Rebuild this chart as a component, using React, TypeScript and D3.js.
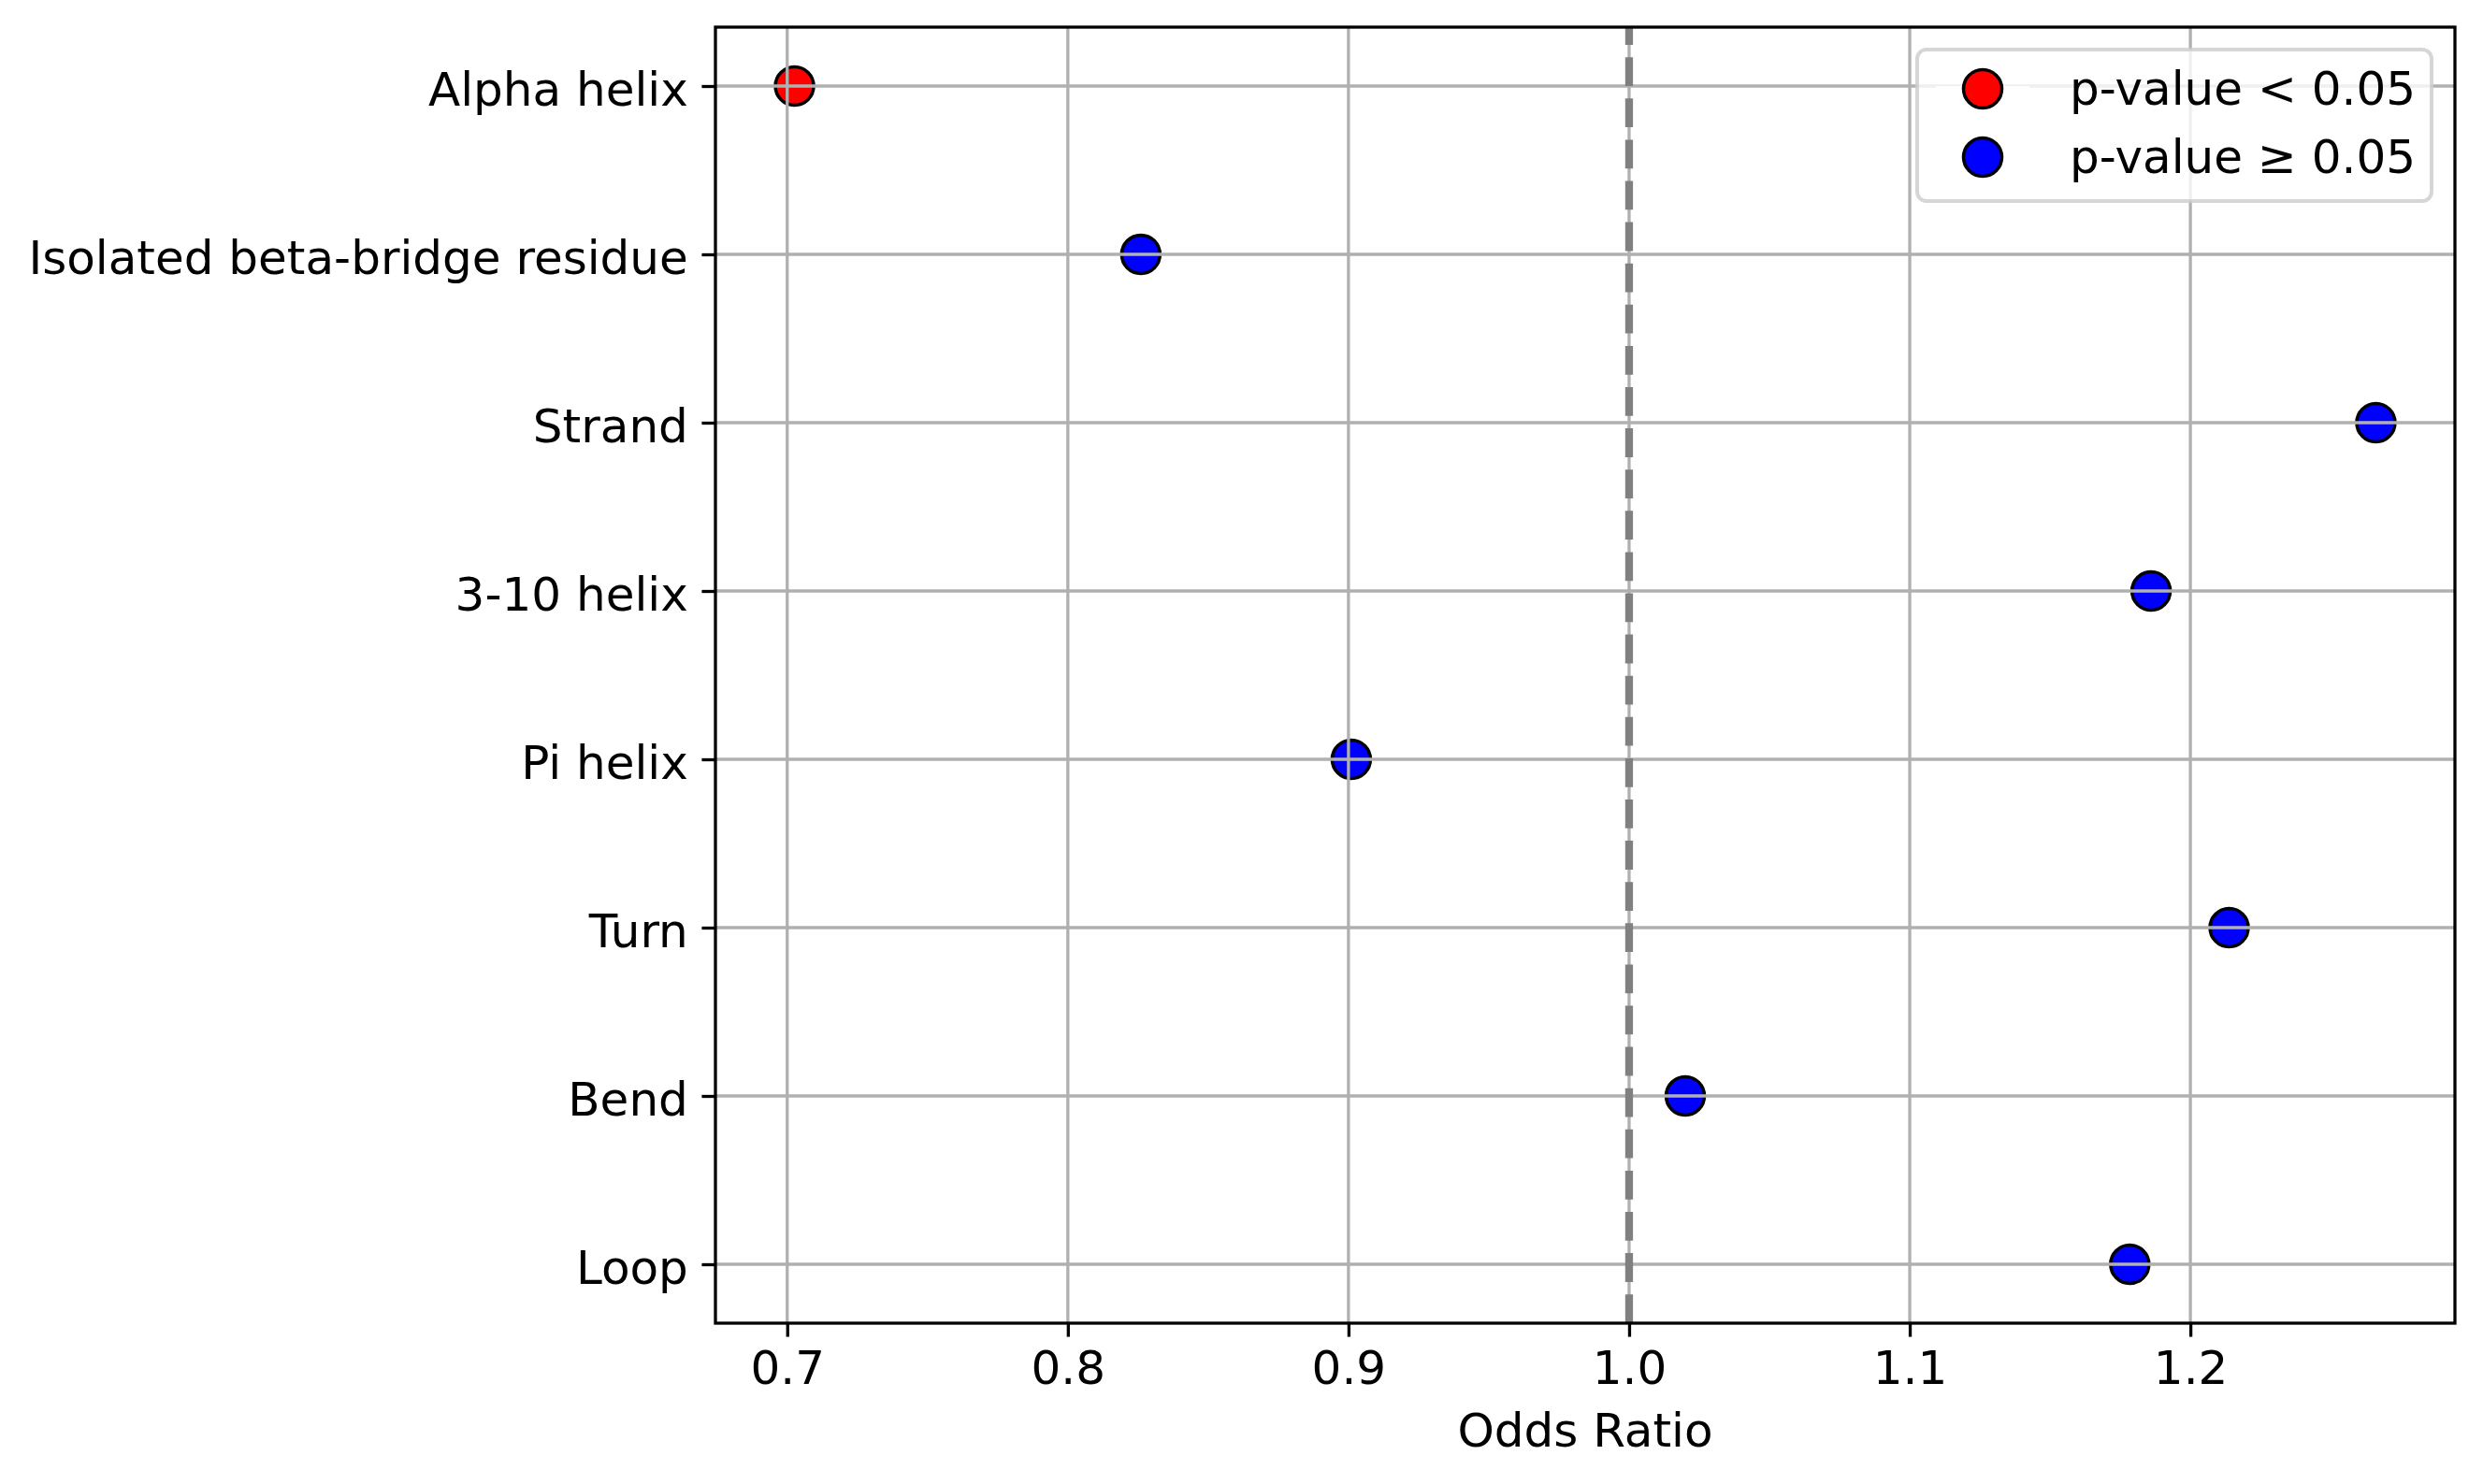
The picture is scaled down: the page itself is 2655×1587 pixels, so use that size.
import { useRef, useEffect } from 'react';
import * as d3 from 'd3';

const categories = [
  'Alpha helix',
  'Isolated beta-bridge residue',
  'Strand',
  '3-10 helix',
  'Pi helix',
  'Turn',
  'Bend',
  'Loop',
];
const oddsRatios = [0.7026, 0.826, 1.2661, 1.186, 0.901, 1.2138, 1.02, 1.1784];
const significant = [true, false, false, false, false, false, false, false];
const xTicks = [0.7, 0.8, 0.9, 1.0, 1.1, 1.2];
const legendLabels = ['p-value < 0.05', 'p-value \u2265 0.05'];
const legendColors = ['red', 'blue'];

const width = 2655;
const height = 1587;
const margin = { top: 29, right: 30, bottom: 172, left: 765 };
const font = 'DejaVu Sans, sans-serif';
const fontSize = 50;
const tickLen = 14.6;

export default function App() {
  const gx = useRef<SVGGElement>(null);
  const gy = useRef<SVGGElement>(null);

  const innerW = width - margin.left - margin.right;
  const innerH = height - margin.top - margin.bottom;

  // matplotlib style 5% margins
  const [lo, hi] = d3.extent(oddsRatios) as [number, number];
  const pad = (hi - lo) * 0.05;
  const x = d3.scaleLinear().domain([lo - pad, hi + pad]).range([0, innerW]);
  const n = categories.length;
  const ypad = (n - 1) * 0.05;
  const y = d3.scaleLinear().domain([-ypad, n - 1 + ypad]).range([0, innerH]);

  useEffect(() => {
    const el = gx.current;
    if (el) {
      const g = d3.select(el);
      g.call(
        d3
          .axisBottom(x)
          .tickValues(xTicks)
          .tickSizeInner(tickLen)
          .tickSizeOuter(0)
          .tickPadding(tickLen)
          .tickFormat((d) => d3.format('.1f')(d as number)),
      );
      g.select('.domain').remove();
      g.selectAll('line').attr('stroke', 'black').attr('stroke-width', 3.3);
      g.selectAll('text').attr('font-size', fontSize).attr('font-family', font).attr('fill', 'black');
    }
    return () => {
      d3.select(el).selectAll('*').remove();
    };
  }, [gx]);

  useEffect(() => {
    const el = gy.current;
    if (el) {
      const g = d3.select(el);
      g.call(
        d3
          .axisLeft(y)
          .tickValues(d3.range(n))
          .tickSizeInner(tickLen)
          .tickSizeOuter(0)
          .tickPadding(tickLen)
          .tickFormat((d) => categories[d as number]),
      );
      g.select('.domain').remove();
      g.selectAll('line').attr('stroke', 'black').attr('stroke-width', 3.3);
      g.selectAll('text')
        .attr('font-size', fontSize)
        .attr('font-family', font)
        .attr('fill', 'black')
        .attr('dy', '0.4em');
    }
    return () => {
      d3.select(el).selectAll('*').remove();
    };
  }, [gy]);

  const lx = 2050;
  const ly = 53;

  return (
    <svg width={width} height={height} style={{ position: 'absolute', left: 0, top: 0, background: 'white' }}>
      <rect width={width} height={height} fill="white" />
      <g transform={`translate(${margin.left},${margin.top})`}>
        {oddsRatios.map((v, i) => (
          <circle
            key={categories[i]}
            cx={x(v)}
            cy={y(i)}
            r={20.5}
            fill={significant[i] ? 'red' : 'blue'}
            stroke="black"
            strokeWidth={3.5}
          />
        ))}
        {xTicks.map((t) => (
          <line key={t} x1={x(t)} x2={x(t)} y1={0} y2={innerH} stroke="#b0b0b0" strokeWidth={3.3} />
        ))}
        {categories.map((c, i) => (
          <line key={c} x1={0} x2={innerW} y1={y(i)} y2={y(i)} stroke="#b0b0b0" strokeWidth={3.3} />
        ))}
        <line
          x1={x(1)}
          x2={x(1)}
          y1={innerH}
          y2={0}
          stroke="gray"
          strokeWidth={8.3}
          strokeDasharray="30.8 13.3"
        />
        <rect x={0} y={0} width={innerW} height={innerH} fill="none" stroke="black" strokeWidth={3.3} />
        <g ref={gx} transform={`translate(0,${innerH})`} />
        <g ref={gy} />
        <text
          x={innerW / 2}
          y={innerH + 132}
          textAnchor="middle"
          fontSize={fontSize}
          fontFamily={font}
          fill="black"
        >
          Odds Ratio
        </text>
      </g>
      <g>
        <rect
          x={lx}
          y={ly}
          width={550}
          height={162}
          rx={10}
          fill="white"
          fillOpacity={0.8}
          stroke="#cccccc"
          strokeOpacity={0.8}
          strokeWidth={4}
        />
        {legendLabels.map((lab, i) => {
          const cy = 95 + i * 73;
          return (
            <g key={lab}>
              <line x1={lx + 20} x2={lx + 120} y1={cy} y2={cy} stroke="white" strokeWidth={6} />
              <circle cx={lx + 70} cy={cy} r={20.5} fill={legendColors[i]} stroke="black" strokeWidth={3.5} />
              <text x={lx + 163} y={cy + 17} fontSize={fontSize} fontFamily={font} fill="black">
                {lab}
              </text>
            </g>
          );
        })}
      </g>
    </svg>
  );
}
